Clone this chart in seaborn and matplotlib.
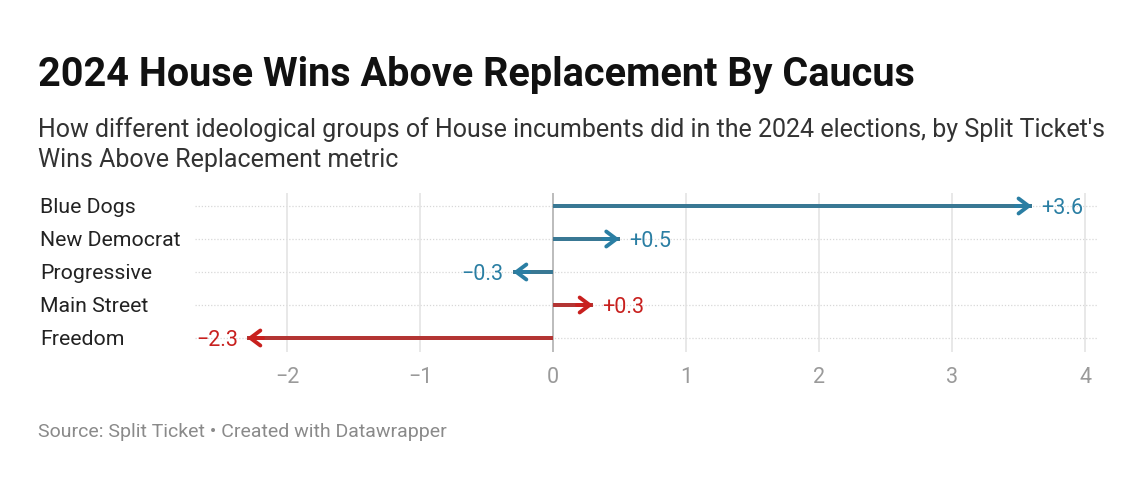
import matplotlib
matplotlib.use("Agg")
import matplotlib.pyplot as plt
import matplotlib.transforms as mtransforms
import seaborn as sns
import pandas as pd

# ---- data ----
categories = ["Blue Dogs", "New Democrat", "Progressive", "Main Street", "Freedom"]
values = [3.6, 0.5, -0.3, 0.3, -2.3]
party = ["D", "D", "D", "R", "R"]
value_labels = ["+3.6", "+0.5", "\u22120.3", "+0.3", "\u22122.3"]
x_ticks = [-2, -1, 0, 1, 2, 3, 4]
x_tick_labels = ["\u22122", "\u22121", "0", "1", "2", "3", "4"]

title = "2024 House Wins Above Replacement By Caucus"
subtitle = ("How different ideological groups of House incumbents did in the 2024 elections, by Split Ticket's\n"
            "Wins Above Replacement metric")
source = "Source: Split Ticket \u2022 Created with Datawrapper"

colors = {"D": "#2a7ea3", "R": "#c8201e"}

df = pd.DataFrame({"category": categories, "value": values, "party": party})

sns.set_theme(style="white")
plt.rcParams["font.family"] = ["Roboto", "DejaVu Sans"]

W, H = 1146, 482
fig = plt.figure(figsize=(W / 100, H / 100), dpi=100)
fig.patch.set_facecolor("white")

ax_left, ax_right, ax_top, ax_bottom = 195, 1097, 193, 352
ax = fig.add_axes([ax_left / W, 1 - ax_bottom / H, (ax_right - ax_left) / W, (ax_bottom - ax_top) / H])

sns.barplot(data=df, x="value", y="category", hue="party", palette=colors,
            orient="h", width=0.1, dodge=False, legend=False, ax=ax, linewidth=0, zorder=3)

# arrow heads
for i, (v, p) in enumerate(zip(values, party)):
    c = colors[p]
    direction = 1 if v > 0 else -1
    ax.annotate("", xy=(v, i), xytext=(v - direction * 0.12, i),
                arrowprops=dict(arrowstyle="->,head_length=0.6,head_width=0.45",
                                color=c, lw=2.8, shrinkA=0, shrinkB=0),
                zorder=4)
    off = 0.07
    if v > 0:
        ax.text(v + off, i, value_labels[i], color=c, fontsize=15.5, va="center_baseline", ha="left")
    else:
        ax.text(v - off, i, value_labels[i], color=c, fontsize=15.5, va="center_baseline", ha="right")

# scales
px_per_unit = 133.0
x0_px = 553
ax.set_xlim((ax_left - x0_px) / px_per_unit, (ax_right - x0_px) / px_per_unit)
row0, step = 206, 33
ax.set_ylim(4 + (ax_bottom - (row0 + 4 * step)) / step, -(row0 - ax_top) / step)

# grid
for t in x_ticks:
    ax.axvline(t, color="#aaaaaa" if t == 0 else "#e2e2e2", lw=1.1, zorder=1)
for i in range(len(categories)):
    ax.axhline(i, color="#d8d8d8", lw=0.9, ls=(0, (1, 1.5)), zorder=0)

ax.set_xticks(x_ticks)
ax.set_xticklabels(x_tick_labels, color="#9a9a9a", fontsize=15.5)
ax.tick_params(axis="x", length=0, pad=11)
ax.set_yticks([])
ax.set_xlabel("")
ax.set_ylabel("")
for s in ax.spines.values():
    s.set_visible(False)
ax.patch.set_alpha(0)

# category labels
trans = mtransforms.blended_transform_factory(fig.transFigure, ax.transData)
for i, cat in enumerate(categories):
    ax.text(40 / W, i, cat, transform=trans, ha="left", va="center_baseline", fontsize=15.3, color="#222222")

# titles
fig.text(38 / W, 1 - 75 / H, title, fontsize=28.5, fontweight="bold", color="#111111", va="center", ha="left")
fig.text(38 / W, 1 - 117 / H, subtitle, fontsize=18, color="#333333", va="top", ha="left", linespacing=1.32)
fig.text(38 / W, 1 - 432 / H, source, fontsize=14, color="#8a8a8a", va="center", ha="left")

fig.savefig("out.png", dpi=100, facecolor="white")
